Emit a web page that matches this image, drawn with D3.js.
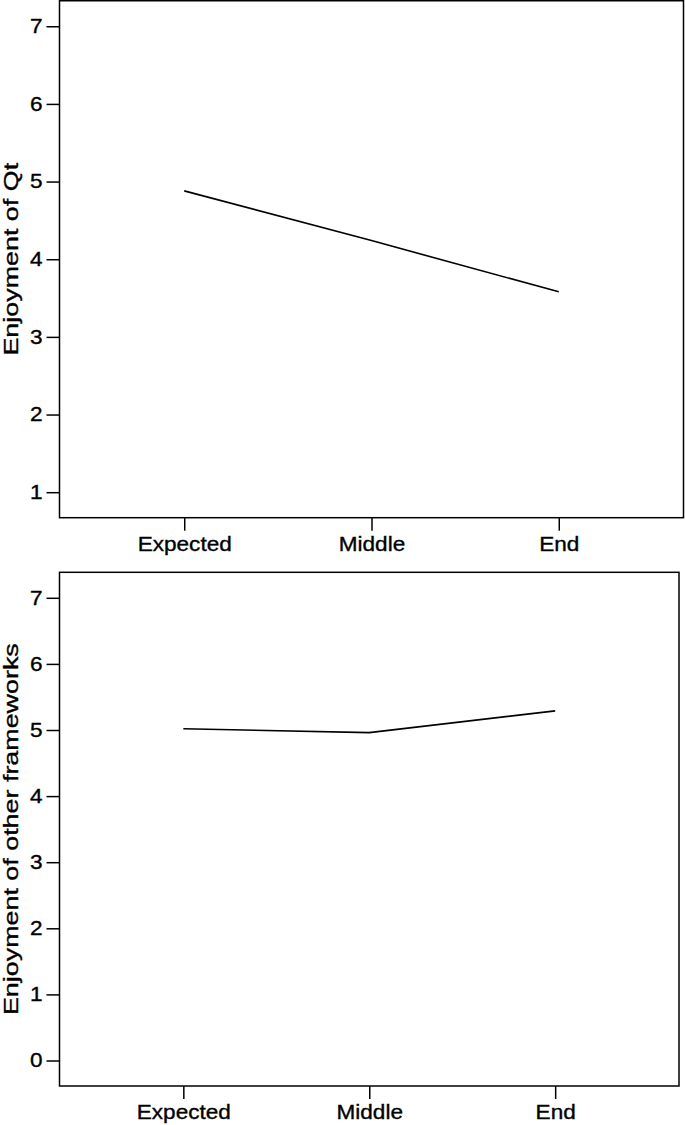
<!DOCTYPE html>
<html>
<head>
<meta charset="utf-8">
<script src="https://cdn.jsdelivr.net/npm/d3@7"></script>
<style>
  html, body { margin: 0; padding: 0; background: #fff; }
  svg { display: block; }
  text { font-family: "Liberation Sans", Arial, Helvetica, sans-serif; fill: #000; stroke: #000; stroke-width: 0.35px; }
</style>
</head>
<body>
<svg id="chart" width="685" height="1125"></svg>
<script>
// ---- data ----
const categories = ["Expected", "Middle", "End"];
const qtValues = [4.88, 4.24, 3.58];
const otherValues = [5.02, 4.96, 5.29];
const qtTicks = [1, 2, 3, 4, 5, 6, 7];
const otherTicks = [0, 1, 2, 3, 4, 5, 6, 7];
const qtTitle = "Enjoyment of Qt";
const otherTitle = "Enjoyment of other frameworks";

// ---- layout ----
const svg = d3.select("#chart");
const H_SCALE = 1.13;   // horizontal stretch of horizontal text
const T_SCALE = 1.28;   // stretch along rotated titles
const PAD = 25.5;       // px between frame and extreme tick

const panels = [
  { values: qtValues, ticks: qtTicks, title: qtTitle,
    left: 59.5, right: 683.5, top: 0.75, bottom: 517.7 },
  { values: otherValues, ticks: otherTicks, title: otherTitle,
    left: 59.5, right: 679, top: 572.3, bottom: 1086 }
];

panels.forEach(p => {
  const x = d3.scalePoint().domain(categories).range([p.left, p.right]).padding(0.666);
  const y = d3.scaleLinear()
    .domain([d3.min(p.ticks), d3.max(p.ticks)])
    .range([p.bottom - PAD, p.top + PAD]);

  const g = svg.append("g");

  // frame
  g.append("rect")
    .attr("x", p.left).attr("y", p.top)
    .attr("width", p.right - p.left).attr("height", p.bottom - p.top)
    .attr("fill", "none").attr("stroke", "#000").attr("stroke-width", 1.5);

  // y axis
  const ya = g.append("g").attr("transform", `translate(${p.left},0)`)
    .call(d3.axisLeft(y).tickValues(p.ticks).tickFormat(d3.format("d"))
      .tickSize(13).tickPadding(4));
  ya.select(".domain").remove();
  ya.selectAll(".tick line").attr("stroke", "#000").attr("stroke-width", 1.5);
  ya.selectAll(".tick text")
    .attr("x", null)
    .attr("transform", `translate(-17,0) scale(${H_SCALE},1)`)
    .style("font-size", "20px").attr("fill", "#000");

  // x axis
  const xa = g.append("g").attr("transform", `translate(0,${p.bottom})`)
    .call(d3.axisBottom(x).tickSize(13).tickPadding(6));
  xa.select(".domain").remove();
  xa.selectAll(".tick line").attr("stroke", "#000").attr("stroke-width", 1.5);
  xa.selectAll(".tick text")
    .attr("y", null)
    .attr("transform", `translate(0,19) scale(${H_SCALE},1)`)
    .style("font-size", "20px").attr("fill", "#000");

  // line
  const line = d3.line().x((d, i) => x(categories[i])).y(d => y(d));
  g.append("path").datum(p.values)
    .attr("d", line)
    .attr("fill", "none").attr("stroke", "#000").attr("stroke-width", 1.6);

  // y title
  g.append("text")
    .attr("transform", `translate(18,${(p.top + p.bottom) / 2}) rotate(-90) scale(${T_SCALE},1)`)
    .attr("text-anchor", "middle")
    .style("font-size", "21px")
    .text(p.title);
});
</script>
</body>
</html>
